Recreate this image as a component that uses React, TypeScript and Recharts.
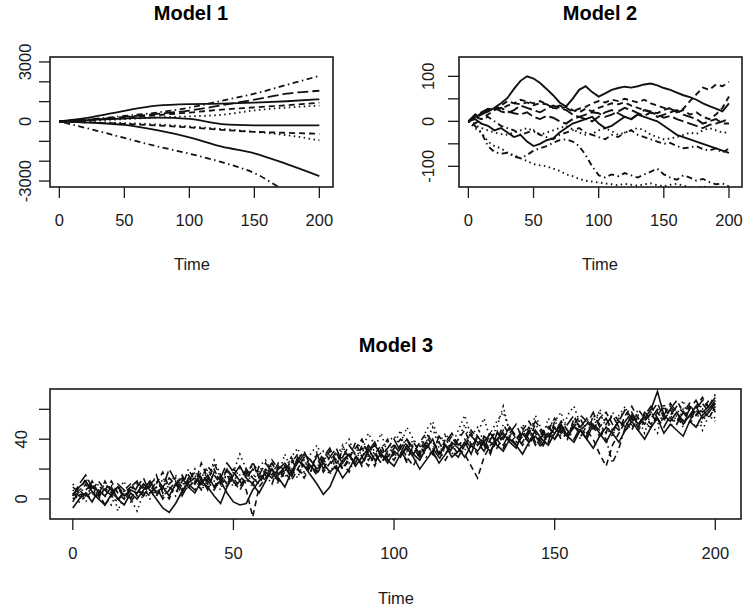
import React from 'react';
import { LineChart, Line, XAxis, YAxis } from 'recharts';

const W = 743;
const H = 611;
const FONT = '"Liberation Sans", Arial, Helvetica, sans-serif';
const INK = '#1a1a1a';

// R-like line types
const DASH: Record<string, string | undefined> = {
  solid: undefined,
  dashed: '6 4',
  dotted: '1.5 3.5',
  dotdash: '1.5 3.5 6 3.5',
  longdash: '11 4',
};

// ---- Model 1 (smooth paths, read every 25 steps)
const m1Time = [0, 25, 50, 75, 100, 125, 150, 175, 200];
const m1Upper = [0, 220, 540, 800, 880, 900, 950, 1020, 1120];
const m1DotDashUp = [0, 120, 280, 450, 700, 1050, 1400, 1850, 2300];
const m1LongDash = [0, 100, 230, 380, 550, 820, 1100, 1400, 1550];
const m1DashUp = [0, 80, 200, 320, 450, 600, 710, 820, 950];
const m1DotUp = [0, 50, 120, 200, 260, 340, 560, 700, 800];
const m1Mid = [0, 80, 150, 200, 130, -130, -190, -200, -190];
const m1DashLow = [0, -50, -120, -200, -300, -420, -520, -570, -620];
const m1DotLow = [0, -30, -80, -150, -250, -380, -520, -690, -950];
const m1Lower = [0, -60, -170, -440, -800, -1270, -1600, -2150, -2750];
const m1DotDashLow = [0, -400, -830, -1250, -1620, -2050, -2600, -3500, -4000];
const m1Series = [m1Upper, m1DotDashUp, m1LongDash, m1DashUp, m1DotUp, m1Mid, m1DashLow, m1DotLow, m1Lower, m1DotDashLow];
const m1Lty = ['solid', 'dotdash', 'longdash', 'dashed', 'dotted', 'solid', 'dashed', 'dotted', 'solid', 'dotdash'];
const m1YTicks = [-3000, -2000, -1000, 0, 1000, 2000, 3000];
const m1YLabels = [-3000, 0, 3000];

// ---- Model 2 (every 5 steps)
const m2A = [
  0, 8, 15, 22, 30, 40, 52, 72, 90, 100,
  95, 85, 72, 58, 42, 33, 50, 70, 78, 65,
  55, 62, 70, 74, 77, 75, 78, 82, 84, 80,
  74, 70, 64, 58, 54, 48, 40, 34, 28, 22,
  40,
];
const m2B = [
  0, 8, 18, 22, 30, 28, 35, 40, 38, 42,
  36, 40, 38, 30, 28, 32, 25, 20, 28, 22,
  30, 35, 40, 38, 42, 35, 30, 25, 22, 18,
  25, 30, 20, 28, 45, 60, 75, 70, 82, 78,
  88,
];
const m2C = [
  0, -15, -25, -45, -55, -60, -70, -75, -82, -88,
  -95, -98, -100, -105, -110, -118, -122, -128, -132, -134,
  -136, -138, -140, -142, -139, -141, -143, -140, -138, -142,
  -144, -141, -139, -143, -146, -148, -145, -147, -150, -148,
  -150,
];
const m2D = [
  0, -10, -25, -55, -68, -72, -70, -78, -82, -75,
  -65, -60, -55, -48, -42, -40, -45, -55, -75, -100,
  -120, -125, -118, -122, -115, -120, -125, -118, -112, -105,
  -118, -125, -130, -120, -125, -132, -128, -135, -140, -138,
  -145,
];
const m2E = [
  0, 15, 20, 28, 25, 30, 22, 18, 15, 20,
  10, 5, 12, 8, 0, -5, 5, 10, 15, 20,
  18, 10, 15, 22, 30, 25, 18, 12, 20, 15,
  8, 12, 5, 0, -5, -10, -15, -8, -5, 0,
  5,
];
const m2F = [
  0, 5, -5, -10, -20, -15, -25, -35, -30, -45,
  -55, -50, -42, -38, -25, -15, -5, 0, 5, 10,
  -5, -15, -10, 0, 10, 5, 15, 10, 5, 0,
  -10, -20, -30, -35, -40, -45, -50, -55, -60, -65,
  -70,
];
const m2G = [
  0, 10, 5, 15, 25, 35, 45, 40, 48, 44,
  40, 45, 38, 30, 35, 30, 22, 28, 32, 40,
  45, 42, 48, 45, 50, 46, 42, 48, 40, 35,
  30, 28, 20, 25, 15, 20, 10, 5, 15, 30,
  55,
];
const m2H = [
  0, -8, -15, -20, -25, -28, -30, -25, -20, -15,
  -22, -30, -25, -20, -15, -10, -18, -25, -30, -28,
  -20, -15, -22, -30, -25, -20, -15, -20, -30, -35,
  -40, -38, -35, -30, -25, -28, -20, -15, -20, -25,
  -25,
];
const m2I = [
  0, -5, 5, 10, 0, -10, -15, -20, -30, -25,
  -20, -30, -35, -40, -30, -25, -20, -15, -25, -30,
  -35, -40, -30, -35, -25, -20, -30, -35, -40, -45,
  -50, -48, -55, -60, -58, -55, -62, -65, -60, -70,
  -60,
];
const m2J = [
  0, 12, 18, 25, 30, 22, 18, 25, 35, 30,
  25, 20, 28, 35, 30, 25, 15, 10, 5, 0,
  10, 20, 25, 18, 10, 5, 15, 25, 20, 10,
  15, 20, 25, 15, 10, 5, -5, 0, 5, -5,
  -5,
];
const m2Series = [m2A, m2B, m2C, m2D, m2E, m2F, m2G, m2H, m2I, m2J];
const m2Lty = ['solid', 'dashed', 'dotted', 'dotdash', 'longdash', 'solid', 'dashed', 'dotted', 'dotdash', 'longdash'];
const m2YTicks = [-100, -50, 0, 50, 100];
const m2YLabels = [-100, 0, 100];

// ---- Model 3 (every 2 steps)
const m3A = [
  2, 8, 12, 5, 0, -4, 3, 8, 2, 6,
  4, 10, 6, 0, -6, -9, -3, 5, 11, 14,
  10, 16, 8, 12, 4, -2, -4, -3, 6, 12,
  18, 14, 20, 24, 18, 26, 22, 16, 10, 3,
  8, 18, 26, 30, 22, 28, 34, 26, 30, 24,
  32, 28, 36, 30, 26, 34, 40, 30, 36, 28,
  32, 38, 30, 42, 36, 32, 40, 44, 38, 34,
  44, 38, 46, 40, 36, 44, 50, 42, 48, 46,
  40, 50, 44, 38, 46, 52, 48, 56, 50, 54,
  60, 72, 56, 52, 58, 50, 56, 62, 54, 58,
  64,
];
const m3B = [
  4, 0, 6, 10, 2, 6, 12, 4, 0, 8,
  12, 6, 2, 10, 18, 8, 4, 12, 16, 10,
  24, 14, 8, 16, 10, 18, 12, 6, -12, 8,
  14, 20, 12, 18, 26, 20, 14, 22, 28, 18,
  24, 32, 20, 26, 38, 28, 22, 30, 36, 26,
  30, 36, 28, 22, 32, 38, 30, 26, 36, 42,
  34, 30, 22, 14, 28, 36, 40, 34, 42, 36,
  38, 46, 40, 34, 42, 48, 40, 44, 50, 42,
  46, 40, 30, 22, 36, 44, 52, 46, 56, 50,
  48, 56, 62, 54, 50, 58, 64, 56, 60, 54,
  62,
];
const m3C = [
  0, 6, -2, 4, 10, 2, -4, 6, 12, 0,
  -8, 4, 10, 2, 14, 8, 2, 12, 6, 16,
  8, 20, 12, 6, 18, 10, 22, 14, 8, 18,
  12, 24, 16, 30, 20, 14, 26, 18, 32, 24,
  16, 28, 36, 24, 30, 40, 28, 34, 44, 30,
  36, 46, 32, 40, 28, 38, 48, 34, 42, 30,
  40, 50, 36, 44, 54, 40, 48, 62, 44, 38,
  50, 42, 56, 46, 36, 52, 58, 44, 50, 40,
  54, 46, 60, 50, 42, 56, 62, 48, 54, 44,
  58, 52, 64, 48, 56, 66, 50, 60, 46, 56,
  52,
];
const m3D = [
  6, 2, 10, 4, 0, 8, 2, -2, 6, 10,
  2, 8, 4, 12, 6, 0, 10, 16, 8, 12,
  6, 14, 20, 10, 16, 8, 12, 18, 10, 22,
  16, 10, 22, 18, 28, 20, 16, 24, 18, 26,
  22, 30, 24, 18, 28, 34, 26, 32, 24, 30,
  26, 34, 40, 30, 36, 28, 32, 38, 30, 36,
  30, 38, 44, 36, 40, 32, 38, 46, 40, 36,
  42, 48, 38, 44, 50, 40, 46, 42, 48, 54,
  44, 50, 46, 40, 24, 34, 48, 54, 46, 52,
  58, 50, 54, 60, 52, 58, 62, 56, 60, 66,
  58,
];
const m3E = [
  2, 10, 16, 8, 4, 10, 6, 0, 4, 8,
  6, 2, 10, 14, 8, 20, 12, 6, 14, 10,
  16, 12, 6, 14, 24, 18, 12, 20, 14, 10,
  18, 24, 16, 22, 14, 26, 32, 22, 18, 28,
  34, 24, 28, 36, 30, 22, 32, 38, 28, 34,
  40, 32, 26, 36, 30, 38, 34, 28, 38, 44,
  36, 40, 34, 42, 38, 30, 44, 40, 48, 42,
  36, 44, 52, 46, 40, 48, 44, 50, 56, 46,
  50, 58, 48, 54, 46, 52, 60, 54, 48, 58,
  54, 60, 56, 64, 58, 52, 60, 66, 58, 62,
  68,
];
const m3F = [
  -6, 0, 4, -2, 6, 2, 8, 0, -4, 4,
  0, 6, 12, 4, 8, 2, 10, 14, 8, 4,
  12, 8, 2, -3, 8, 16, 22, 14, 10, 4,
  12, 20, 14, 8, 18, 24, 30, 26, 20, 24,
  18, 22, 14, 20, 28, 24, 32, 36, 30, 26,
  22, 30, 34, 28, 20, 26, 32, 24, 30, 38,
  34, 28, 36, 32, 38, 44, 36, 32, 40, 36,
  30, 38, 42, 36, 44, 40, 48, 42, 38, 46,
  40, 34, 42, 48, 44, 38, 46, 52, 46, 40,
  48, 54, 44, 50, 46, 42, 52, 48, 56, 60,
  66,
];
const m3G = [
  8, 4, 0, 6, 12, 6, 2, 8, 4, -2,
  4, 10, 6, 2, 8, 14, 10, 4, 12, 18,
  14, 22, 16, 10, 20, 14, 8, 16, 24, 14,
  20, 16, 24, 18, 12, 20, 28, 22, 16, 26,
  32, 26, 20, 28, 34, 40, 30, 24, 32, 28,
  34, 40, 36, 30, 38, 44, 38, 32, 26, 34,
  40, 46, 36, 30, 42, 38, 34, 42, 48, 40,
  46, 52, 44, 38, 46, 54, 48, 42, 50, 56,
  52, 46, 54, 58, 50, 46, 56, 62, 54, 50,
  58, 64, 54, 60, 66, 58, 54, 62, 68, 60,
  64,
];
const m3H = [
  4, -2, 2, 8, 0, 4, 10, -8, 2, 6,
  10, 4, 0, 6, 2, 10, 16, 6, 12, 20,
  6, 12, 26, 16, 10, 18, 30, 20, 14, 22,
  26, 18, 10, 20, 28, 34, 22, 30, 36, 26,
  30, 22, 34, 40, 28, 32, 44, 36, 30, 38,
  42, 36, 48, 40, 34, 46, 52, 38, 44, 36,
  46, 56, 42, 48, 38, 44, 52, 58, 46, 40,
  48, 36, 44, 40, 54, 48, 42, 56, 62, 50,
  44, 52, 58, 48, 42, 54, 60, 50, 46, 56,
  50, 44, 62, 56, 50, 60, 54, 48, 52, 58,
  54,
];
const m3I = [
  10, 4, 14, 6, 2, 12, 4, 8, 0, 6,
  12, 2, 8, 16, 4, 10, 14, 8, 20, 12,
  18, 10, 24, 14, 8, 20, 16, 10, 24, 18,
  12, 26, 20, 14, 24, 30, 18, 26, 20, 32,
  26, 20, 34, 28, 24, 36, 30, 22, 34, 40,
  28, 34, 24, 38, 32, 42, 36, 30, 40, 34,
  38, 32, 46, 40, 34, 44, 38, 50, 42, 36,
  46, 40, 50, 44, 38, 52, 46, 40, 54, 48,
  42, 56, 50, 44, 58, 52, 46, 50, 60, 54,
  50, 58, 52, 62, 56, 48, 62, 56, 64, 58,
  60,
];
const m3J = [
  -2, 6, 2, 12, 4, -4, 2, 10, 6, 0,
  8, 14, 4, 8, 0, 6, 12, 2, 10, 6,
  14, 6, 18, 12, 20, 12, 6, 14, 20, 16,
  24, 18, 12, 22, 16, 28, 22, 18, 30, 20,
  28, 34, 24, 30, 22, 28, 36, 30, 24, 32,
  36, 30, 40, 34, 28, 36, 30, 42, 36, 32,
  28, 36, 42, 38, 32, 40, 46, 36, 44, 50,
  40, 46, 36, 42, 48, 44, 52, 46, 40, 48,
  54, 48, 42, 50, 56, 48, 52, 58, 50, 56,
  62, 54, 48, 56, 62, 58, 52, 60, 66, 62,
  70,
];
const m3Series = [m3A, m3B, m3C, m3D, m3E, m3F, m3G, m3H, m3I, m3J];
const m3Lty = ['solid', 'dashed', 'dotted', 'dotdash', 'longdash', 'solid', 'dashed', 'dotted', 'dotdash', 'longdash'];
const m3YTicks = [0, 20, 40, 60];
const m3YLabels = [0, 40];

const xTicks = [0, 50, 100, 150, 200];
const m2Time = m2A.map((_, i) => i * 5);
const m3Time = m3A.map((_, i) => i * 2);

function toRows(time: number[], series: number[][]) {
  return time.map((t, i) => {
    const row: Record<string, number> = { t };
    series.forEach((s, k) => {
      row['s' + k] = s[i];
    });
    return row;
  });
}

const XTick = (props: any) => (
  <text x={props.x} y={props.y} textAnchor="middle" dominantBaseline="central"
    fontFamily={FONT} fontSize={16.5} fill={INK}>
    {props.payload.value}
  </text>
);

const makeYTick = (shown: number[]) => (props: any) => {
  const { x, y, payload } = props;
  if (!shown.includes(payload.value)) return <g />;
  return (
    <text x={x} y={y} transform={`rotate(-90, ${x}, ${y})`} textAnchor="middle"
      dominantBaseline="central" fontFamily={FONT} fontSize={16.5} fill={INK}>
      {payload.value}
    </text>
  );
};

type PanelProps = {
  time: number[];
  series: number[][];
  lty: string[];
  xDomain: [number, number];
  yDomain: [number, number];
  yTicks: number[];
  yLabels: number[];
  margin: { top: number; right: number; bottom: number; left: number };
  yWidth: number;
  yTickMargin: number;
  xTickMargin: number;
  curve: 'linear' | 'monotone';
  sw: number;
};

function Panel(p: PanelProps) {
  const rows = toRows(p.time, p.series);
  return (
    <div style={{ position: 'absolute', left: 0, top: 0 }}>
      <LineChart width={W} height={H} data={rows} margin={p.margin}>
        <XAxis dataKey="t" type="number" domain={p.xDomain} allowDataOverflow ticks={xTicks}
          height={60} axisLine={false} tickSize={11} tickMargin={p.xTickMargin}
          tickLine={{ stroke: INK, strokeWidth: 1.3 }} tick={XTick} interval={0} />
        <YAxis type="number" domain={p.yDomain} allowDataOverflow ticks={p.yTicks}
          width={p.yWidth} axisLine={false} tickSize={11} tickMargin={p.yTickMargin}
          tickLine={{ stroke: INK, strokeWidth: 1.3 }} tick={makeYTick(p.yLabels)} interval={0} />
        {p.series.map((_, k) => (
          <Line key={k} type={p.curve} dataKey={'s' + k} stroke="#111" strokeWidth={p.sw}
            strokeDasharray={DASH[p.lty[k]]} dot={false} activeDot={false}
            isAnimationActive={false} />
        ))}
      </LineChart>
    </div>
  );
}

export default function App() {
  return (
    <div style={{ position: 'absolute', left: 0, top: 0, width: W, height: H, background: '#fff' }}>
      <Panel time={m1Time} series={m1Series} lty={m1Lty} xDomain={[-7.2, 210.5]}
        yDomain={[-3300, 3250]} yTicks={m1YTicks} yLabels={m1YLabels}
        margin={{ top: 57, right: W - 333, bottom: H - 187 - 60, left: 0 }}
        yWidth={50} yTickMargin={14} xTickMargin={22} curve="monotone" sw={1.8} />
      <Panel time={m2Time} series={m2Series} lty={m2Lty} xDomain={[-7.2, 210]}
        yDomain={[-146, 143]} yTicks={m2YTicks} yLabels={m2YLabels}
        margin={{ top: 57, right: W - 742, bottom: H - 187 - 60, left: 0 }}
        yWidth={459} yTickMargin={20} xTickMargin={22} curve="linear" sw={1.9} />
      <Panel time={m3Time} series={m3Series} lty={m3Lty} xDomain={[-7.1, 208]}
        yDomain={[-13.4, 73.6]} yTicks={m3YTicks} yLabels={m3YLabels}
        margin={{ top: 389, right: W - 741, bottom: H - 519 - 60, left: 0 }}
        yWidth={50} yTickMargin={18} xTickMargin={23} curve="linear" sw={1.6} />
      <svg width={W} height={H} style={{ position: 'absolute', left: 0, top: 0, pointerEvents: 'none' }}>
        <rect x={50} y={57} width={283} height={130} fill="none" stroke={INK} strokeWidth={1.6} />
        <rect x={459} y={57} width={283} height={130} fill="none" stroke={INK} strokeWidth={1.6} />
        <rect x={50} y={389} width={691} height={130} fill="none" stroke={INK} strokeWidth={1.6} />
        <g fontFamily={FONT} fill="#000" textAnchor="middle" dominantBaseline="central">
          <text x={191} y={13} fontSize={20} fontWeight="bold">Model 1</text>
          <text x={600} y={13} fontSize={20} fontWeight="bold">Model 2</text>
          <text x={396} y={345} fontSize={20} fontWeight="bold">Model 3</text>
          <text x={192} y={264} fontSize={16.5} fill={INK}>Time</text>
          <text x={600} y={264} fontSize={16.5} fill={INK}>Time</text>
          <text x={396} y={598} fontSize={16.5} fill={INK}>Time</text>
        </g>
      </svg>
    </div>
  );
}
